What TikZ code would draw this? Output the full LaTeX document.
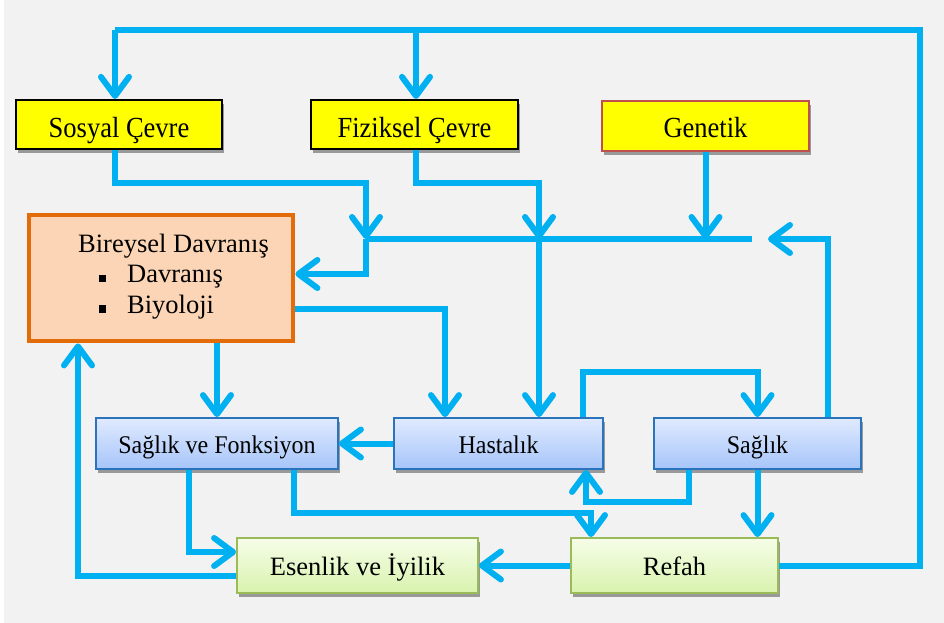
\documentclass[tikz,border=0pt]{standalone}
\usepackage{fontspec}
\usepackage{graphicx}
\setmainfont{Liberation Serif}
\usetikzlibrary{arrows.meta,shadows,calc}
\definecolor{ln}{HTML}{00B0F0}
\definecolor{bgc}{HTML}{F2F2F2}
\definecolor{ylw}{HTML}{FFFF00}
\definecolor{gred}{HTML}{C0504D}
\definecolor{btop}{HTML}{E0EAFE}
\definecolor{bbot}{HTML}{A6C5FA}
\definecolor{bbrd}{HTML}{2A74BE}
\definecolor{gtop}{HTML}{F6FDE8}
\definecolor{gbot}{HTML}{D9F3AE}
\definecolor{gbrd}{HTML}{9BBB59}
\definecolor{ofill}{HTML}{FBD5B5}
\definecolor{obrd}{HTML}{E36C0A}
\newcommand\fsA{\fontsize{26.5}{30}\selectfont}
\newcommand\fsB{\fontsize{24}{28}\selectfont}
\newcommand\ystr[1]{\scalebox{1}[1.1]{#1}}
\newcommand\bstr[1]{\scalebox{1}[1.06]{#1}}
\begin{document}
\begin{tikzpicture}[x=1pt,y=-1pt,
  shad/.style={drop shadow={shadow xshift=2pt,shadow yshift=-4pt,fill=black!40,opacity=1}},
  ybox/.style={draw=black,line width=2.2pt,fill=ylw,minimum width=206pt,minimum height=49pt,inner sep=0pt,font=\fsA,text height=25pt,text depth=0pt,shad},
  bbox/.style={draw=bbrd,line width=1.8pt,top color=btop,bottom color=bbot,minimum width=207pt,minimum height=51pt,inner sep=0pt,font=\fsB,text height=19pt,text depth=0pt,shad},
  gbox/.style={draw=gbrd,line width=1.8pt,top color=gtop,bottom color=gbot,minimum width=207pt,minimum height=55pt,inner sep=0pt,font=\fsA,text height=19pt,text depth=0pt,shad},
  obox/.style={draw=obrd,line width=4.8pt,fill=ofill,minimum width=264pt,minimum height=126pt,inner sep=0pt},
  conn/.style={draw=ln,line width=6pt},
  arr/.style={conn,-{Straight Barb[length=19pt,width=28pt,round]}},
  txt/.style={inner sep=0pt,font=\fsA}]
\useasboundingbox (0,0) rectangle (944,623);
\fill[white] (0,0) rectangle (944,623);
\fill[bgc] (4,0) rectangle (944,623);

% nodes
\node[ybox] (sos) at (119,124.5) {\ystr{Sosyal Çevre}};
\node[ybox,minimum width=207pt] (fiz) at (414.5,124.5) {\ystr{Fiziksel Çevre}};
\node[ybox,draw=gred,minimum width=207pt,minimum height=50pt,text height=23.5pt] (gen) at (705.5,126) {\ystr{Genetik}};
\node[obox] (bir) at (161,278) {};
\node[txt,anchor=base west] (bt1) at (78,252.5) {Bireysel Davranış};
\node[txt,anchor=base west] (bt2) at (98.5,282.5) {\raisebox{0.5pt}{\rule{7.5pt}{7.5pt}}\hspace{21pt}Davranış};
\node[txt,anchor=base west] (bt3) at (98.5,313) {\raisebox{0.5pt}{\rule{7.5pt}{7.5pt}}\hspace{21pt}Biyoloji};
\node[bbox,minimum width=242pt] (svf) at (217,443.5) {\bstr{Sağlık ve Fonksiyon}};
\node[bbox,minimum width=209pt] (hast) at (498.5,443.5) {\bstr{Hastalık}};
\node[bbox] (sag) at (757.5,443.5) {\bstr{Sağlık}};
\node[gbox,minimum width=241pt] (esen) at (357.5,565.5) {Esenlik ve İyilik};
\node[gbox] (refah) at (674.5,565.5) {Refah};

% coordinates
\coordinate (tl) at (115,30);
\coordinate (tm) at (416,30);
\coordinate (tr) at (920,30);
\coordinate (j1) at (366,239);
\coordinate (j2) at (539,239);
\coordinate (j3) at (705.5,239);
\coordinate (jend) at (752,239);
\coordinate (jarr) at (768,239);

% top feedback loop
\draw[conn] (refah.east) -| (tr) -- (tl);
\draw[arr] (tl) -- (tl |- sos.north);
\draw[arr] (tm) -- (tm |- fiz.north);

% environment / genetics to junction
\draw[arr] ([xshift=-4pt]sos.south) -- ++(0,33) -| (j1);
\draw[arr] ([xshift=1.5pt]fiz.south) -- ++(0,33) -| (j2);
\draw[arr] (gen.south) -- (j3);
\draw[conn] (j1) -- (jend);

% junction to Bireysel and Hastalik
\draw[arr] (j1) |- ([yshift=4pt]bir.east);
\draw[arr] (j2) -- (j2 |- hast.north);

% Bireysel outgoing
\draw[arr] ([yshift=-31pt]bir.east) -| ([xshift=-53.5pt]hast.north);
\draw[arr] (bir.south -| svf.north) -- (svf.north);

% Hastalik / Saglik
\draw[arr] (hast.west) -- (svf.east);
\draw[arr] ([xshift=84.5pt]hast.north) -- ++(0,-45) -| (sag.north);
\draw[arr] ([xshift=70.5pt]sag.north) |- (jarr);
\draw[arr] ([xshift=-68.5pt]sag.south) -- ++(0,32) -| ([xshift=87.5pt]hast.south);
\draw[arr] (sag.south) -- (sag.south |- refah.north);

% lower part
\draw[arr] ([xshift=-28pt]svf.south) |- ([yshift=13.5pt]esen.west);
\draw[arr] ([xshift=77pt]svf.south) -- ++(0,43) -| ([xshift=-83.5pt]refah.north);
\draw[arr] (refah.west) -- (esen.east);
\draw[arr] ([yshift=-10.5pt]esen.west) -| ([xshift=-83pt]bir.south);
\end{tikzpicture}
\end{document}
